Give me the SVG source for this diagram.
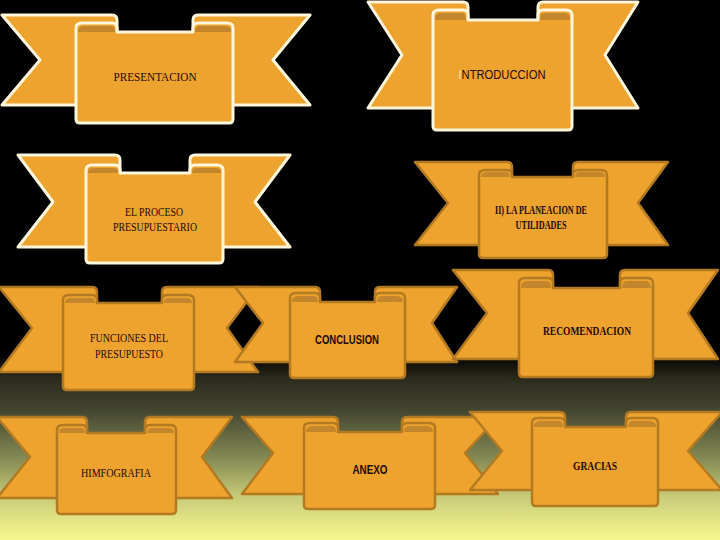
<svg xmlns="http://www.w3.org/2000/svg" width="720" height="540" viewBox="0 0 720 540">
<defs>
<linearGradient id="bg" gradientUnits="userSpaceOnUse" x1="0" y1="0" x2="0" y2="540">
<stop offset="0" stop-color="#000000"/>
<stop offset="0.655" stop-color="#000000"/>
<stop offset="0.7" stop-color="#2a2a1c"/>
<stop offset="0.76" stop-color="#444630"/>
<stop offset="0.85" stop-color="#858b55"/>
<stop offset="0.92" stop-color="#c8cc78"/>
<stop offset="1" stop-color="#f8f890"/>
</linearGradient>
<style>
.t{fill:#efa32f;stroke-linejoin:round;stroke-width:2.5}
.p{fill:#efa32f;stroke-linejoin:round;stroke-width:2.5}
.b{fill:#c4862c;stroke:none}
.w .t,.w .p{stroke:#fff6dc;stroke-width:3}
.k .t,.k .p{stroke:#b37a22}
text{fill:#220808;text-anchor:middle;font-size:12px;font-family:"Liberation Serif",serif}
.s{font-family:"Liberation Sans",sans-serif}
.bd{font-weight:bold}
</style>
</defs>
<rect width="720" height="540" fill="url(#bg)"/>
<g id="presentacion" class="w">
<path class="t" d="M2,15 H112 Q117,15 117,20 V105 H2 L40,60 Z"/>
<path class="t" d="M310,15 H198 Q193,15 193,20 V105 H310 L273,60 Z"/>
<path class="p" d="M76,28 Q76,23 82,23 H112 Q117,23 117,28 V32 H193 V28 Q193,23 198,23 H227 Q233,23 233,28 V119 Q233,123 229,123 H80 Q76,123 76,119 Z"/>
<path class="b" d="M78,32 Q78,26 84,26 H111 Q115,26 115,32 Z M195,32 Q195,26 200,26 H225 Q231,26 231,32 Z"/>
<text x="155" y="81" textLength="83" lengthAdjust="spacingAndGlyphs">PRESENTACION</text>
</g>
<g id="introduccion" class="w">
<path class="t" d="M368,2 H463 Q468,2 468,7 V108 H368 L402,55 Z"/>
<path class="t" d="M638,2 H543 Q538,2 538,7 V108 H638 L605,55 Z"/>
<path class="p" d="M433,15 Q433,10 439,10 H463 Q468,10 468,15 V20 H538 V15 Q538,10 543,10 H566 Q572,10 572,15 V126 Q572,130 568,130 H437 Q433,130 433,126 Z"/>
<path class="b" d="M435,20 Q435,13 441,13 H462 Q466,13 466,20 Z M540,20 Q540,13 545,13 H564 Q570,13 570,20 Z"/>
<text class="s" x="502" y="79" textLength="87" lengthAdjust="spacingAndGlyphs"><tspan fill="#f3e2b0">I</tspan>NTRODUCCION</text>
</g>
<g id="proceso" class="w">
<path class="t" d="M18,155 H115 Q120,155 120,160 V247 H18 L53,202 Z"/>
<path class="t" d="M290,155 H195 Q190,155 190,160 V247 H290 L255,202 Z"/>
<path class="p" d="M86,170 Q86,165 92,165 H115 Q120,165 120,170 V173 H190 V170 Q190,165 195,165 H217 Q223,165 223,170 V259 Q223,263 219,263 H90 Q86,263 86,259 Z"/>
<path class="b" d="M88,173 Q88,168 94,168 H114 Q118,168 118,173 Z M192,173 Q192,168 197,168 H215 Q221,168 221,173 Z"/>
<text x="154" y="216" textLength="58" lengthAdjust="spacingAndGlyphs">EL PROCESO</text>
<text x="155" y="231" textLength="84" lengthAdjust="spacingAndGlyphs">PRESUPUESTARIO</text>
</g>
<g id="planeacion" class="k">
<path class="t" d="M415,162 H507 Q512,162 512,167 V245 H415 L448,203 Z"/>
<path class="t" d="M668,162 H578 Q573,162 573,167 V245 H668 L638,203 Z"/>
<path class="p" d="M479,175 Q479,170 485,170 H507 Q512,170 512,175 V177 H573 V175 Q573,170 578,170 H601 Q607,170 607,175 V254 Q607,258 603,258 H483 Q479,258 479,254 Z"/>
<path class="b" d="M481,177 Q481,172 487,172 H506 Q510,172 510,177 Z M575,177 Q575,172 580,172 H599 Q605,172 605,177 Z"/>
<text class="bd" x="541" y="214" font-size="10" textLength="92" lengthAdjust="spacingAndGlyphs">II) LA PLANEACION DE</text>
<text class="bd" x="541" y="229" font-size="10" textLength="51" lengthAdjust="spacingAndGlyphs">UTILIDADES</text>
</g>
<g id="funciones" class="k">
<path class="t" d="M-1,287 H92 Q97,287 97,292 V372 H-1 L32,328 Z"/>
<path class="t" d="M258,287 H167 Q162,287 162,292 V372 H258 L227,328 Z"/>
<path class="p" d="M63,300 Q63,295 69,295 H92 Q97,295 97,300 V303 H162 V300 Q162,295 167,295 H188 Q194,295 194,300 V386 Q194,390 190,390 H67 Q63,390 63,386 Z"/>
<path class="b" d="M65,303 Q65,298 71,298 H91 Q95,298 95,303 Z M164,303 Q164,298 169,298 H186 Q192,298 192,303 Z"/>
<text x="129" y="342" textLength="78" lengthAdjust="spacingAndGlyphs">FUNCIONES DEL</text>
<text x="129" y="358" textLength="68" lengthAdjust="spacingAndGlyphs">PRESUPUESTO</text>
</g>
<g id="conclusion" class="k">
<path class="t" d="M235,287 H315 Q320,287 320,292 V362 H235 L263,323 Z"/>
<path class="t" d="M457,287 H380 Q375,287 375,292 V362 H457 L432,323 Z"/>
<path class="p" d="M290,298 Q290,293 296,293 H315 Q320,293 320,298 V302 H375 V298 Q375,293 380,293 H399 Q405,293 405,298 V374 Q405,378 401,378 H294 Q290,378 290,374 Z"/>
<path class="b" d="M292,302 Q292,296 298,296 H314 Q318,296 318,302 Z M377,302 Q377,296 382,296 H397 Q403,296 403,302 Z"/>
<text class="s bd" x="347" y="344" font-size="11" textLength="64" lengthAdjust="spacingAndGlyphs">CONCLUSION</text>
</g>
<g id="recomendacion" class="k">
<path class="t" d="M453,270 H548 Q553,270 553,275 V359 H453 L487,313 Z"/>
<path class="t" d="M718,270 H625 Q620,270 620,275 V359 H718 L688,313 Z"/>
<path class="p" d="M519,283 Q519,278 525,278 H548 Q553,278 553,283 V288 H620 V283 Q620,278 625,278 H647 Q653,278 653,283 V373 Q653,377 649,377 H523 Q519,377 519,373 Z"/>
<path class="b" d="M521,288 Q521,281 527,281 H547 Q551,281 551,288 Z M622,288 Q622,281 627,281 H645 Q651,281 651,288 Z"/>
<text class="bd" x="587" y="335" textLength="88" lengthAdjust="spacingAndGlyphs">RECOMENDACION</text>
</g>
<g id="himfografia" class="k">
<path class="t" d="M-3,417 H82 Q87,417 87,422 V498 H-3 L30,457 Z"/>
<path class="t" d="M232,417 H150 Q145,417 145,422 V498 H232 L202,457 Z"/>
<path class="p" d="M57,430 Q57,425 63,425 H82 Q87,425 87,430 V433 H145 V430 Q145,425 150,425 H170 Q176,425 176,430 V510 Q176,514 172,514 H61 Q57,514 57,510 Z"/>
<path class="b" d="M59,433 Q59,428 65,428 H81 Q85,428 85,433 Z M147,433 Q147,428 152,428 H168 Q174,428 174,433 Z"/>
<text x="116" y="477" textLength="70" lengthAdjust="spacingAndGlyphs">HIMFOGRAFIA</text>
</g>
<g id="anexo" class="k">
<path class="t" d="M242,417 H333 Q338,417 338,422 V494 H242 L273,453 Z"/>
<path class="t" d="M498,417 H407 Q402,417 402,422 V494 H498 L465,453 Z"/>
<path class="p" d="M304,428 Q304,423 310,423 H333 Q338,423 338,428 V432 H402 V428 Q402,423 407,423 H429 Q435,423 435,428 V505 Q435,509 431,509 H308 Q304,509 304,505 Z"/>
<path class="b" d="M306,432 Q306,426 312,426 H332 Q336,426 336,432 Z M404,432 Q404,426 409,426 H427 Q433,426 433,432 Z"/>
<text class="s bd" x="370" y="474" font-size="11" textLength="35" lengthAdjust="spacingAndGlyphs">ANEXO</text>
</g>
<g id="gracias" class="k">
<path class="t" d="M470,412 H560 Q565,412 565,417 V490 H470 L502,451 Z"/>
<path class="t" d="M722,412 H631 Q626,412 626,417 V490 H722 L688,451 Z"/>
<path class="p" d="M532,423 Q532,418 538,418 H560 Q565,418 565,423 V427 H626 V423 Q626,418 631,418 H652 Q658,418 658,423 V502 Q658,506 654,506 H536 Q532,506 532,502 Z"/>
<path class="b" d="M534,427 Q534,421 540,421 H559 Q563,421 563,427 Z M628,427 Q628,421 633,421 H650 Q656,421 656,427 Z"/>
<text class="bd" x="595" y="470" textLength="44" lengthAdjust="spacingAndGlyphs">GRACIAS</text>
</g>
<g id="connectors"/>
</svg>
